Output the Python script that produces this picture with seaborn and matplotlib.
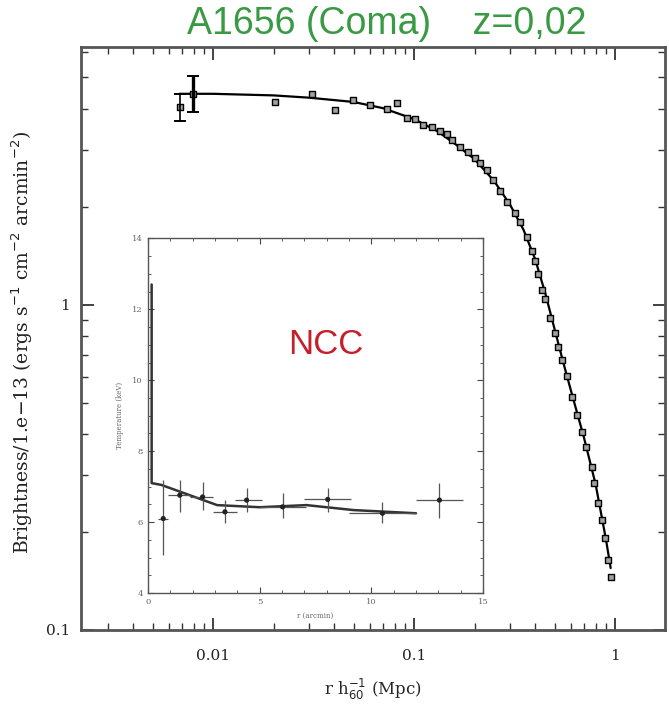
import numpy as np
import pandas as pd
import matplotlib
matplotlib.use("Agg")
import matplotlib.pyplot as plt
import seaborn as sns
from matplotlib.ticker import LogLocator, FixedLocator, MultipleLocator, NullFormatter

# ---------------- data ----------------
radius_mpc = [0.00685, 0.00795, 0.0203, 0.0311, 0.0405, 0.0497, 0.0604, 0.0734, 0.0823,
              0.0923, 0.101, 0.111, 0.123, 0.135, 0.146, 0.155, 0.169, 0.186, 0.201,
              0.213, 0.231, 0.247, 0.268, 0.290, 0.318, 0.337, 0.365, 0.386, 0.400,
              0.414, 0.433, 0.449, 0.475, 0.503, 0.520, 0.545, 0.577, 0.611, 0.647,
              0.685, 0.718, 0.769, 0.787, 0.823, 0.861, 0.892, 0.923, 0.955]
brightness = [4.04, 4.43, 4.21, 4.43, 3.98, 4.27, 4.12, 4.01, 4.18,
              3.76, 3.71, 3.58, 3.53, 3.41, 3.34, 3.22, 3.06, 2.94, 2.83,
              2.73, 2.60, 2.42, 2.23, 2.07, 1.92, 1.79, 1.61, 1.46, 1.36,
              1.24, 1.11, 1.04, 0.912, 0.820, 0.743, 0.677, 0.605, 0.521, 0.459,
              0.407, 0.366, 0.318, 0.283, 0.246, 0.218, 0.192, 0.164, 0.145]
# points with visible error bars
err_r = [0.00685, 0.00795]
err_s = [4.04, 4.43]
err_lo = [3.66, 3.90]
err_hi = [4.43, 5.03]

# fitted profile line
fit_r = [0.0068, 0.01, 0.02, 0.03, 0.05, 0.07, 0.1, 0.13, 0.16, 0.2, 0.25, 0.3,
         0.35, 0.4, 0.45, 0.5, 0.55, 0.6, 0.65, 0.7, 0.8, 0.9, 0.95]
fit_s = [4.45, 4.45, 4.40, 4.33, 4.20, 4.02, 3.72, 3.42, 3.12, 2.80, 2.40, 2.03,
         1.70, 1.38, 1.08, 0.84, 0.67, 0.55, 0.46, 0.39, 0.28, 0.19, 0.155]

# inset: temperature profile
t_r = [0.69, 1.43, 2.45, 3.45, 4.42, 6.03, 8.05, 10.5, 13.05]
t_rlo = [0.45, 0.9, 1.9, 2.9, 3.9, 5.0, 7.0, 9.0, 12.0]
t_rhi = [0.9, 1.9, 2.9, 4.0, 5.1, 7.1, 9.1, 12.0, 14.1]
t_kev = [6.10, 6.76, 6.71, 6.29, 6.62, 6.43, 6.64, 6.25, 6.62]
t_lo = [5.07, 6.28, 6.34, 5.97, 6.28, 6.11, 6.28, 5.97, 6.11]
t_hi = [7.18, 7.18, 7.13, 6.62, 6.96, 6.82, 6.96, 6.56, 7.10]

tmod_r = [0.17, 0.17, 0.6, 3.1, 5.0, 7.1, 9.2, 12.0]
tmod_t = [12.7, 7.1, 7.05, 6.48, 6.42, 6.48, 6.34, 6.25]

# ---------------- plotting ----------------
sns.set_theme(style="ticks")
plt.rcParams["font.family"] = ["DejaVu Serif"]

fig = plt.figure(figsize=(6.69, 7.18), dpi=100)
ax = fig.add_axes([0.121, 0.1226, 0.873, 0.812])

df = pd.DataFrame({"r": radius_mpc, "s": brightness})
fit = pd.DataFrame({"r": fit_r, "s": fit_s})

sns.lineplot(data=fit, x="r", y="s", ax=ax, color="black", lw=1.6, sort=False,
             estimator=None)
sns.scatterplot(data=df, x="r", y="s", ax=ax, marker="s", s=24,
                facecolor="#a0a0a0", edgecolor="black", linewidth=1.0, zorder=3)
ax.errorbar(err_r, err_s,
            yerr=[np.array(err_s) - np.array(err_lo), np.array(err_hi) - np.array(err_s)],
            fmt="none", ecolor="black", elinewidth=[1.2, 2.4], capsize=4, capthick=1.4, zorder=4)

ax.set_xscale("log")
ax.set_yscale("log")
ax.set_xlim(0.0022, 1.77)
ax.set_ylim(0.1, 6.2)
ax.xaxis.set_major_locator(FixedLocator([0.01, 0.1, 1]))
ax.xaxis.set_minor_locator(LogLocator(base=10, subs=np.arange(2, 10)))
ax.xaxis.set_minor_formatter(NullFormatter())
ax.set_xticklabels(["0.01", "0.1", "1"])
ax.yaxis.set_major_locator(FixedLocator([0.1, 1]))
ax.yaxis.set_minor_locator(LogLocator(base=10, subs=np.arange(2, 10)))
ax.yaxis.set_minor_formatter(NullFormatter())
ax.set_yticklabels(["0.1", "1"])
ax.tick_params(which="both", direction="in", top=True, right=True, colors="#333333",
               labelsize=11, labelcolor="#222222")
ax.tick_params(which="major", length=9, width=1.3)
ax.tick_params(which="minor", length=5, width=1.0)
ax.tick_params(axis="x", which="major", pad=14)
ax.tick_params(axis="y", which="major", pad=8)
for sp in ax.spines.values():
    sp.set_linewidth(2.0)
    sp.set_color("#555555")
ax.set_xlabel(r"r h$_{60}^{-1}$ (Mpc)", fontsize=12, labelpad=10)
ax.set_ylabel("")
fig.text(22 / 669, 1 - 342 / 718,
         r"Brightness/1.e$-$13 (ergs s$^{-1}$ cm$^{-2}$ arcmin$^{-2}$)",
         rotation=90, ha="center", va="center", fontsize=13.5, color="#222222")

fig.text(387 / 669, 1 - 24 / 718, "A1656 (Coma)    z=0,02", ha="center", va="center",
         fontsize=27, color="#3a9a44", family=["Liberation Sans", "DejaVu Sans"])

# ---------------- inset ----------------
ins = fig.add_axes([0.221, 0.174, 0.501, 0.494])
tdf = pd.DataFrame({"r": t_r, "T": t_kev})
mod = pd.DataFrame({"r": tmod_r, "T": tmod_t})
sns.lineplot(data=mod, x="r", y="T", ax=ins, color="#333333", lw=1.8, sort=False,
             estimator=None)
ins.errorbar(t_r, t_kev,
             xerr=[np.array(t_r) - np.array(t_rlo), np.array(t_rhi) - np.array(t_r)],
             yerr=[np.array(t_kev) - np.array(t_lo), np.array(t_hi) - np.array(t_kev)],
             fmt="none", ecolor="#555555", elinewidth=0.9, zorder=3)
sns.scatterplot(data=tdf, x="r", y="T", ax=ins, marker="o", s=14, color="#222222",
                edgecolor="none", zorder=4)
ins.set_xlim(0, 15)
ins.set_ylim(4, 14)
ins.xaxis.set_major_locator(MultipleLocator(5))
ins.xaxis.set_minor_locator(MultipleLocator(1))
ins.yaxis.set_major_locator(MultipleLocator(2))
ins.yaxis.set_minor_locator(MultipleLocator(0.5))
ins.tick_params(which="both", direction="in", top=True, right=True, labelsize=6,
                colors="#444444", labelcolor="#666666")
ins.tick_params(which="major", length=4, width=0.8)
ins.tick_params(which="minor", length=2, width=0.6)
for sp in ins.spines.values():
    sp.set_linewidth(1.0)
    sp.set_color("#555555")
ins.set_xlabel("r (arcmin)", fontsize=5, color="#666666", labelpad=4)
ins.set_ylabel("Temperature (keV)", fontsize=5, color="#666666", labelpad=6)
ins.text(0.53, 0.70, "NCC", transform=ins.transAxes, ha="center", va="center",
         fontsize=25, color="#c4202c", family=["Liberation Sans", "DejaVu Sans"])

fig.savefig("out.png", dpi=100)
